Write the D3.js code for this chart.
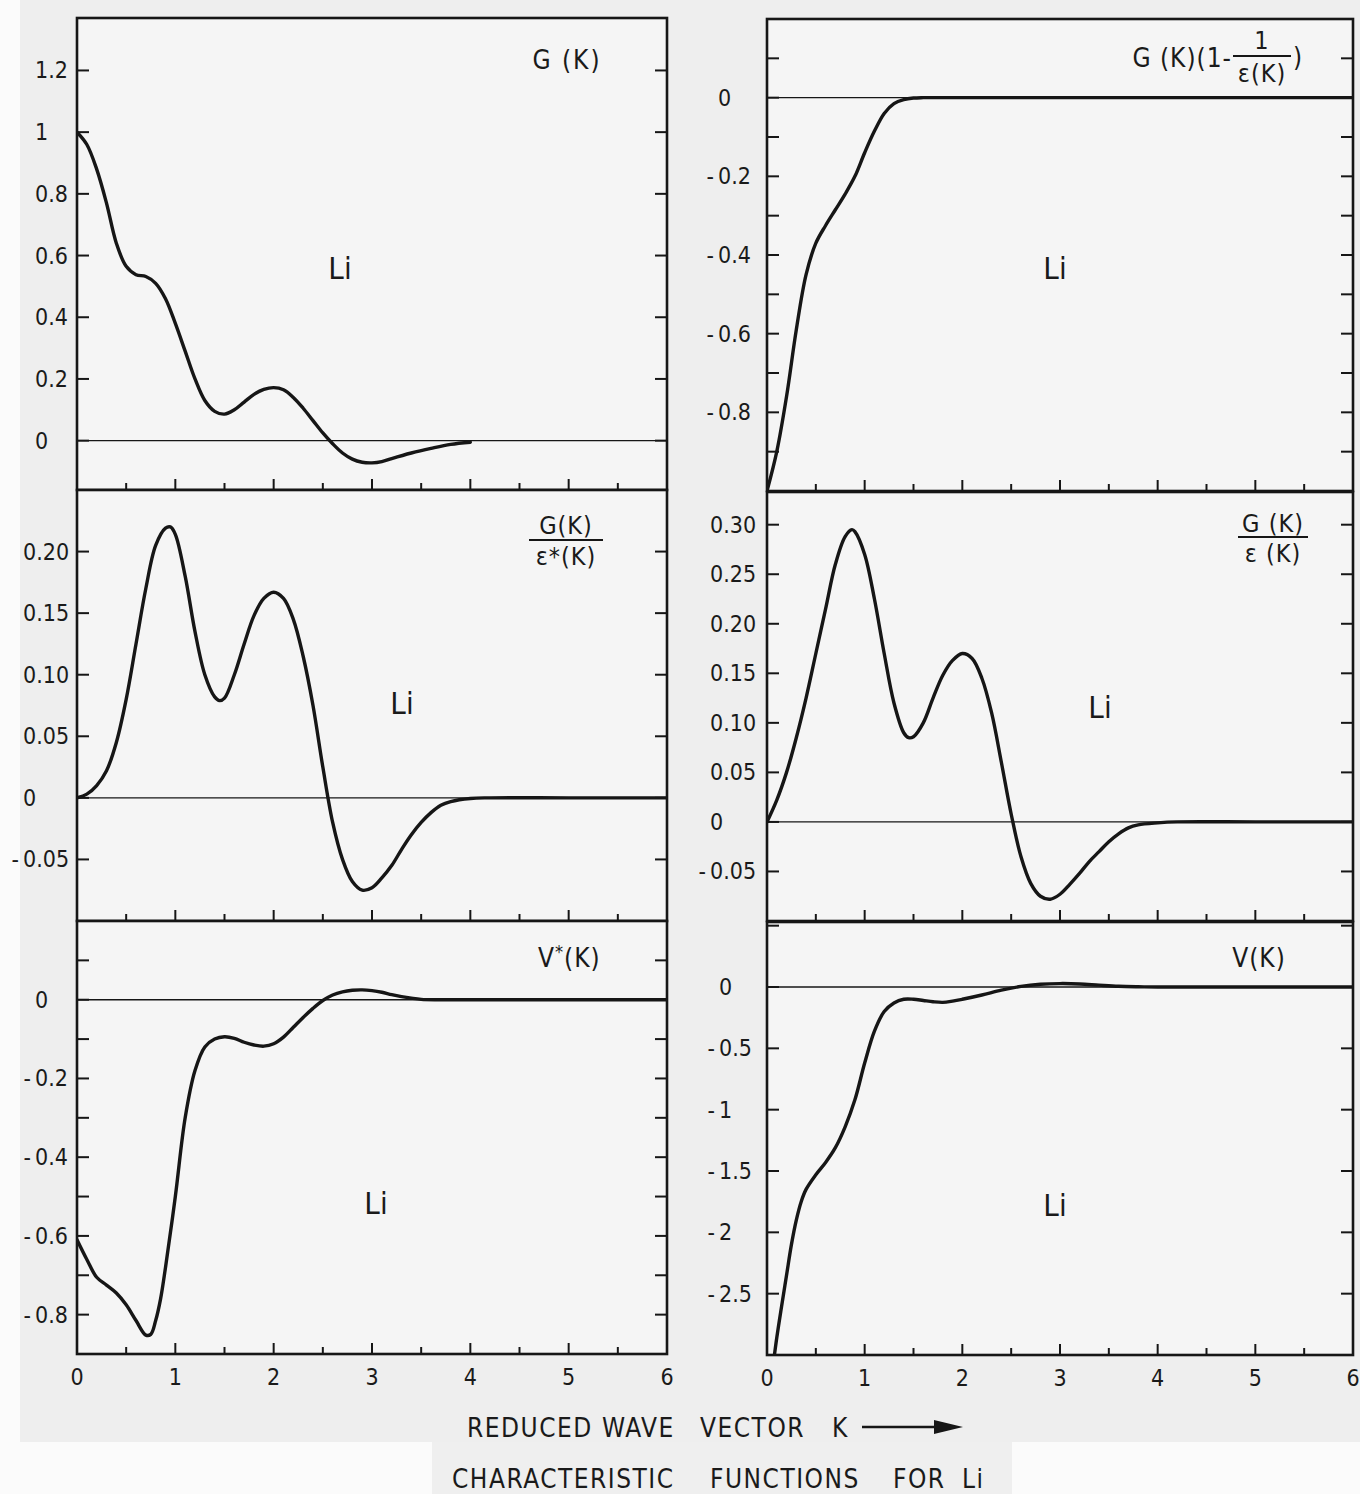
<!DOCTYPE html>
<html><head><meta charset="utf-8">
<script src="https://cdn.jsdelivr.net/npm/d3@7"></script>
<style>
html,body{margin:0;padding:0;background:#fff;}
svg{display:block;}
text{font-family:"DejaVu Sans Condensed","Liberation Sans Narrow","DejaVu Sans",sans-serif;fill:#1a1a1a;}
</style></head><body>
<svg id="fig" width="1360" height="1494"></svg>
<script>
// ---- data: reduced wave vector K versus each characteristic function of Li ----
const gK = [[0,1.0],[0.1,0.96],[0.2,0.88],[0.3,0.77],[0.4,0.64],[0.5,0.565],[0.6,0.538],[0.7,0.532],[0.8,0.51],[0.9,0.46],[1.0,0.38],[1.1,0.29],[1.2,0.2],[1.3,0.13],[1.4,0.095],[1.5,0.086],[1.6,0.1],[1.7,0.125],[1.8,0.15],[1.9,0.166],[2.0,0.172],[2.1,0.165],[2.2,0.14],[2.3,0.105],[2.4,0.065],[2.5,0.025],[2.6,-0.01],[2.7,-0.04],[2.8,-0.06],[2.9,-0.07],[3.0,-0.072],[3.1,-0.068],[3.2,-0.058],[3.4,-0.04],[3.6,-0.025],[3.8,-0.012],[4.0,-0.005]];

const gScreened = [[0,-1.0],[0.1,-0.9],[0.2,-0.76],[0.3,-0.59],[0.4,-0.45],[0.5,-0.37],[0.6,-0.325],[0.7,-0.285],[0.8,-0.245],[0.9,-0.2],[1.0,-0.14],[1.1,-0.085],[1.2,-0.04],[1.3,-0.015],[1.4,-0.005],[1.5,-0.001],[1.6,0],[2,0],[3,0],[4,0],[5,0],[6,0]];

const gOverEpsStar = [[0,0],[0.1,0.003],[0.2,0.01],[0.3,0.022],[0.4,0.045],[0.5,0.08],[0.6,0.125],[0.7,0.17],[0.8,0.205],[0.9,0.219],[0.95,0.22],[1.0,0.214],[1.1,0.18],[1.2,0.135],[1.3,0.1],[1.4,0.082],[1.45,0.079],[1.5,0.081],[1.6,0.1],[1.7,0.125],[1.8,0.148],[1.9,0.162],[2.0,0.167],[2.1,0.162],[2.2,0.145],[2.3,0.115],[2.4,0.075],[2.5,0.025],[2.6,-0.02],[2.7,-0.05],[2.8,-0.068],[2.9,-0.075],[3.0,-0.073],[3.1,-0.065],[3.2,-0.055],[3.3,-0.042],[3.4,-0.03],[3.5,-0.02],[3.6,-0.012],[3.7,-0.006],[3.8,-0.003],[4.0,-0.0005],[4.2,0],[5,0],[6,0]];

const gOverEps = [[0,0],[0.1,0.022],[0.2,0.05],[0.3,0.085],[0.4,0.125],[0.5,0.17],[0.6,0.215],[0.7,0.26],[0.8,0.288],[0.87,0.295],[0.9,0.293],[1.0,0.27],[1.1,0.225],[1.2,0.17],[1.3,0.12],[1.4,0.09],[1.45,0.085],[1.5,0.086],[1.6,0.1],[1.7,0.125],[1.8,0.148],[1.9,0.163],[2.0,0.17],[2.1,0.165],[2.2,0.145],[2.3,0.11],[2.4,0.06],[2.5,0.008],[2.6,-0.035],[2.7,-0.062],[2.8,-0.075],[2.9,-0.078],[3.0,-0.073],[3.1,-0.063],[3.2,-0.052],[3.3,-0.04],[3.4,-0.03],[3.5,-0.02],[3.6,-0.012],[3.7,-0.006],[3.8,-0.003],[4.0,-0.001],[4.2,0],[5,0],[6,0]];

const vStar = [[0,-0.61],[0.1,-0.66],[0.2,-0.705],[0.3,-0.725],[0.4,-0.745],[0.5,-0.775],[0.6,-0.815],[0.7,-0.852],[0.75,-0.85],[0.8,-0.815],[0.85,-0.76],[0.9,-0.68],[1.0,-0.5],[1.1,-0.3],[1.2,-0.18],[1.3,-0.12],[1.4,-0.1],[1.5,-0.094],[1.6,-0.098],[1.7,-0.108],[1.8,-0.115],[1.9,-0.118],[2.0,-0.112],[2.1,-0.095],[2.2,-0.07],[2.3,-0.045],[2.4,-0.022],[2.5,-0.002],[2.6,0.012],[2.7,0.02],[2.8,0.024],[2.9,0.025],[3.0,0.023],[3.1,0.019],[3.2,0.013],[3.3,0.008],[3.4,0.004],[3.5,0.001],[3.7,0],[5,0],[6,0]];

const vK = [[0.06,-3.1],[0.1,-2.86],[0.15,-2.6],[0.2,-2.35],[0.25,-2.1],[0.3,-1.9],[0.35,-1.75],[0.4,-1.65],[0.5,-1.53],[0.6,-1.43],[0.7,-1.31],[0.8,-1.14],[0.9,-0.92],[1.0,-0.62],[1.1,-0.36],[1.2,-0.2],[1.3,-0.13],[1.4,-0.1],[1.5,-0.1],[1.6,-0.11],[1.7,-0.12],[1.8,-0.125],[1.9,-0.115],[2.0,-0.1],[2.2,-0.065],[2.4,-0.025],[2.6,0.005],[2.8,0.022],[3.0,0.028],[3.2,0.025],[3.4,0.015],[3.6,0.006],[3.8,0.002],[4.0,0],[5,0],[6,0]];

// ---- tick labels ----
const xTickLabels = ["0","1","2","3","4","5","6"];
const yLabelsG = ["0","0.2","0.4","0.6","0.8","1","1.2"];
const yLabelsScreened = ["-0.8","-0.6","-0.4","-0.2","0"];
const yLabelsEpsStar = ["-0.05","0","0.05","0.10","0.15","0.20"];
const yLabelsEps = ["-0.05","0","0.05","0.10","0.15","0.20","0.25","0.30"];
const yLabelsVStar = ["-0.8","-0.6","-0.4","-0.2","0"];
const yLabelsV = ["-2.5","-2","-1.5","-1","-0.5","0"];

// ---- layout ----
const columns = [{x0:77, x1:667}, {x0:767, x1:1353}];
const rowsByCol = [
  [[18,490],[490,921],[921,1354]],
  [[19,491],[492,921],[922,1355]]
];

const panels = [
  {data:gK, col:0, row:0, yDomain:[-0.16,1.37], tickStep:0.2, labels:yLabelsG, digitX:35, li:[340,268]},
  {data:gOverEpsStar, col:0, row:1, yDomain:[-0.1,0.25], tickStep:0.05, labels:yLabelsEpsStar, digitX:23, li:[402,703]},
  {data:vStar, col:0, row:2, yDomain:[-0.9,0.2], tickStep:0.1, labels:yLabelsVStar, digitX:35, li:[376,1203]},
  {data:gScreened, col:1, row:0, yDomain:[-1,0.2], tickStep:0.1, labels:yLabelsScreened, digitX:718, li:[1055,268]},
  {data:gOverEps, col:1, row:1, yDomain:[-0.1,0.333], tickStep:0.05, labels:yLabelsEps, digitX:710, li:[1100,707]},
  {data:vK, col:1, row:2, yDomain:[-3,0.53], tickStep:0.5, labels:yLabelsV, digitX:719, li:[1055,1205]}
];

const svg = d3.select("#fig");
svg.append("rect").attr("width",1360).attr("height",1494).attr("fill","#fbfbfb");
svg.append("rect").attr("x",20).attr("y",0).attr("width",1340).attr("height",1442).attr("fill","#eeeeee");
svg.append("rect").attr("x",432).attr("y",1442).attr("width",580).attr("height",52).attr("fill","#efefef");

const ink = "#161616";
const line = d3.line().curve(d3.curveCatmullRom.alpha(0.5));

panels.forEach((p, i) => {
  const c = columns[p.col];
  const [top, bottom] = rowsByCol[p.col][p.row];
  const x = d3.scaleLinear().domain([0,6]).range([c.x0, c.x1]);
  const y = d3.scaleLinear().domain(p.yDomain).range([bottom, top]);
  const g = svg.append("g");

  g.append("rect").attr("x",c.x0).attr("y",top).attr("width",c.x1-c.x0).attr("height",bottom-top)
    .attr("fill","#f5f5f5");

  const clipId = "clip" + i;
  svg.append("clipPath").attr("id",clipId).append("rect")
    .attr("x",c.x0).attr("y",top).attr("width",c.x1-c.x0).attr("height",bottom-top);

  // zero line
  g.append("line").attr("x1",c.x0).attr("x2",c.x1).attr("y1",y(0)).attr("y2",y(0))
    .attr("stroke",ink).attr("stroke-width",1.4);

  // y ticks on both sides, pointing inward
  const n0 = Math.ceil(p.yDomain[0]/p.tickStep - 1e-6), n1 = Math.floor(p.yDomain[1]/p.tickStep + 1e-6);
  for (let n = n0; n <= n1; n++) {
    const v = n * p.tickStep, yy = y(v);
    if (yy < top + 3 || yy > bottom - 3) continue;
    g.append("line").attr("x1",c.x0).attr("x2",c.x0+12).attr("y1",yy).attr("y2",yy).attr("stroke",ink).attr("stroke-width",2);
    g.append("line").attr("x1",c.x1-12).attr("x2",c.x1).attr("y1",yy).attr("y2",yy).attr("stroke",ink).attr("stroke-width",2);
  }

  // K ticks along the bottom edge, every 0.5
  d3.range(1,12).forEach(k => {
    const xx = x(k/2), len = k % 2 === 0 ? 11 : 7;
    g.append("line").attr("x1",xx).attr("x2",xx).attr("y1",bottom).attr("y2",bottom-len)
      .attr("stroke",ink).attr("stroke-width",2);
  });

  // y tick labels, aligned on the first digit
  p.labels.forEach(s => {
    const v = +s, yy = y(v) + 8;
    const neg = s.startsWith("-");
    if (neg) g.append("text").attr("x",p.digitX-4).attr("y",yy).attr("text-anchor","end")
      .attr("font-size",23).text("-");
    g.append("text").attr("x",p.digitX).attr("y",yy).attr("font-size",23).text(neg ? s.slice(1) : s);
  });

  // the curve
  g.append("path").attr("clip-path",`url(#${clipId})`)
    .attr("d", line(p.data.map(d => [x(d[0]), y(d[1])])))
    .attr("fill","none").attr("stroke",ink).attr("stroke-width",3.4)
    .attr("stroke-linejoin","round").attr("stroke-linecap","round");

  // frame
  g.append("rect").attr("x",c.x0).attr("y",top).attr("width",c.x1-c.x0).attr("height",bottom-top)
    .attr("fill","none").attr("stroke",ink).attr("stroke-width",2.6);

  g.append("text").attr("x",p.li[0]).attr("y",p.li[1]+11).attr("text-anchor","middle")
    .attr("font-size",31).text("Li");

  // K axis labels under the lowest row
  if (p.row === 2) {
    xTickLabels.forEach((s, j) => {
      svg.append("text").attr("x",x(j)).attr("y",bottom+31).attr("text-anchor","middle")
        .attr("font-size",23).text(s);
    });
  }
});

// ---- function names inside the panels ----
function fraction(cx, numY, lineY, denY, w, num, den) {
  svg.append("text").attr("x",cx).attr("y",numY).attr("text-anchor","middle").attr("font-size",25)
    .attr("letter-spacing",1).text(num);
  svg.append("line").attr("x1",cx-w/2).attr("x2",cx+w/2).attr("y1",lineY).attr("y2",lineY)
    .attr("stroke",ink).attr("stroke-width",2);
  svg.append("text").attr("x",cx).attr("y",denY).attr("text-anchor","middle").attr("font-size",25)
    .attr("letter-spacing",1).text(den);
}

svg.append("text").attr("x",567).attr("y",69).attr("text-anchor","middle").attr("font-size",26)
  .attr("letter-spacing",2).attr("xml:space","preserve").text("G (K)");

svg.append("text").attr("x",1232).attr("y",67).attr("text-anchor","end").attr("font-size",26)
  .attr("letter-spacing",1).text("G (K)(1-");
fraction(1262, 49, 56, 82, 58, "1", "ε(K)");
svg.append("text").attr("x",1293).attr("y",66).attr("font-size",26).text(")");

fraction(566, 534, 540, 565, 74, "G(K)", "ε*(K)");
fraction(1273, 532, 537, 562, 70, "G (K)", "ε (K)");

const vs = svg.append("text").attr("x",538).attr("y",967).attr("font-size",26).attr("letter-spacing",1);
vs.append("tspan").text("V");
vs.append("tspan").attr("dy",-9).attr("font-size",18).text("*");
vs.append("tspan").attr("dy",9).text("(K)");
svg.append("text").attr("x",1259).attr("y",967).attr("text-anchor","middle").attr("font-size",26)
  .attr("letter-spacing",1).text("V(K)");

// ---- axis title and caption ----
[["REDUCED",467],["WAVE",602],["VECTOR",700],["K",832]].forEach(([w, xx]) => {
  svg.append("text").attr("x",xx).attr("y",1437).attr("font-size",26).attr("letter-spacing",1.5).text(w);
});
svg.append("line").attr("x1",862).attr("x2",940).attr("y1",1427).attr("y2",1427).attr("stroke",ink).attr("stroke-width",2.5);
svg.append("path").attr("d","M934,1420 L963,1427 L934,1434 Z").attr("fill",ink);

[["CHARACTERISTIC",452],["FUNCTIONS",710],["FOR",893],["Li",962]].forEach(([w, xx]) => {
  svg.append("text").attr("x",xx).attr("y",1488).attr("font-size",26).attr("letter-spacing",1.5).text(w);
});
</script>
</body></html>
